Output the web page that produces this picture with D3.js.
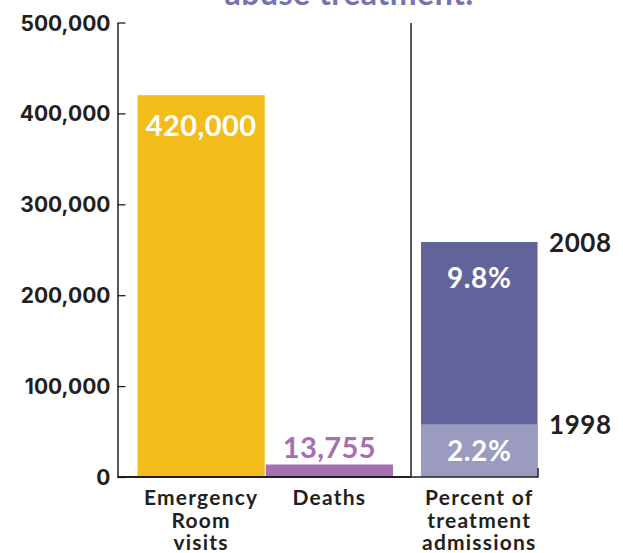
<!DOCTYPE html>
<html>
<head>
<meta charset="utf-8">
<script src="https://cdn.jsdelivr.net/npm/d3@7"></script>
<style>
  html, body { margin: 0; padding: 0; background: #ffffff; }
  svg { display: block; }
</style>
</head>
<body>
<svg id="chart" width="623" height="553"></svg>
<script>
// Counts shown against the left axis
const countCategories = ["Emergency Room visits", "Deaths"];
const countValues = [420000, 13755];
const countLabels = ["420,000", "13,755"];
const countColors = ["#f2bc1a", "#a66fb0"];

// Share of treatment admissions, by year
const pctYears = ["2008", "1998"];
const pctValues = [9.8, 2.2];
const pctLabels = ["9.8%", "2.2%"];
const pctColors = ["#63639b", "#9b9bc0"];

const yTicks = [0, 100000, 200000, 300000, 400000, 500000];
const yTickLabels = ["0", "100,000", "200,000", "300,000", "400,000", "500,000"];

const categoryLabels = [
  ["Emergency", "Room", "visits"],
  ["Deaths"],
  ["Percent of", "treatment", "admissions"]
];
const titleLine = "abuse treatment.";

const ink = "#231f20";
const svg = d3.select("#chart");

const baseY = 477;
const y = d3.scaleLinear().domain([0, 500000]).range([baseY, 22.5]);
const x = d3.scaleBand().domain(countCategories).range([137.5, 393]).paddingInner(0.008);

const pctX0 = 421, pctX1 = 537.5;
const yPct = d3.scaleLinear().domain([0, d3.max(pctValues)]).range([baseY, 242]);

// Title (last line, running off the top edge)
svg.append("text")
  .attr("x", 349).attr("y", 5)
  .attr("text-anchor", "middle")
  .attr("font-family", "Lato, sans-serif")
  .attr("font-weight", 700)
  .attr("font-size", 32)
  .attr("letter-spacing", 0.5)
  .attr("fill", "#7474b0")
  .text(titleLine);

// Count bars
svg.selectAll("rect.count")
  .data(countValues)
  .join("rect")
  .attr("class", "count")
  .attr("x", (d, i) => x(countCategories[i]))
  .attr("width", x.bandwidth())
  .attr("y", d => y(d))
  .attr("height", d => baseY - y(d))
  .attr("fill", (d, i) => countColors[i]);

// Value label inside the tall bar, above the short one
svg.selectAll("text.count")
  .data(countValues)
  .join("text")
  .attr("class", "count")
  .attr("x", (d, i) => x(countCategories[i]) + x.bandwidth() / 2)
  .attr("y", d => (baseY - y(d) > 60 ? y(d) + 41 : y(d) - 6))
  .attr("text-anchor", "middle")
  .attr("font-family", "Lato, sans-serif")
  .attr("font-weight", 700)
  .attr("font-size", 29)
  .attr("letter-spacing", 0.4)
  .attr("fill", (d, i) => (baseY - y(d) > 60 ? "#ffffff" : countColors[i]))
  .text((d, i) => countLabels[i]);

// Percent bars, 2008 behind 1998
svg.selectAll("rect.pct")
  .data(pctValues)
  .join("rect")
  .attr("class", "pct")
  .attr("x", pctX0)
  .attr("width", pctX1 - pctX0)
  .attr("y", d => yPct(d))
  .attr("height", d => baseY - yPct(d))
  .attr("fill", (d, i) => pctColors[i]);

svg.selectAll("text.pct")
  .data(pctValues)
  .join("text")
  .attr("class", "pct")
  .attr("x", (pctX0 + pctX1) / 2)
  .attr("y", (d, i) => i === 0 ? yPct(d) + 46 : (yPct(d) + baseY) / 2 + 10)
  .attr("text-anchor", "middle")
  .attr("font-family", "Lato, sans-serif")
  .attr("font-weight", 700)
  .attr("font-size", 28)
  .attr("letter-spacing", 0.6)
  .attr("fill", "#ffffff")
  .text((d, i) => pctLabels[i]);

// Year labels beside the percent bars
svg.selectAll("text.year")
  .data(pctValues)
  .join("text")
  .attr("class", "year")
  .attr("x", 549)
  .attr("y", d => yPct(d) + 10)
  .attr("font-family", "Lato, sans-serif")
  .attr("font-weight", 700)
  .attr("font-size", 26)
  .attr("letter-spacing", 0.6)
  .attr("fill", ink)
  .text((d, i) => pctYears[i]);

// Left axis: ticks point into the plot
const axis = d3.axisLeft(y)
  .tickValues(yTicks)
  .tickFormat((d, i) => yTickLabels[i])
  .tickSizeInner(-8)
  .tickSizeOuter(0)
  .tickPadding(7);

const gAxis = svg.append("g")
  .attr("transform", "translate(117.5,0)")
  .call(axis);
gAxis.select(".domain").attr("stroke", ink).attr("stroke-width", 1.5);
gAxis.selectAll(".tick line").attr("stroke", ink).attr("stroke-width", 1.3);
gAxis.selectAll(".tick text")
  .attr("fill", ink)
  .attr("font-family", "Inter, sans-serif")
  .attr("font-weight", 700)
  .attr("font-size", 21)
  .attr("dy", "0.36em");

// Baseline and the separator between the two panels
svg.append("path")
  .attr("d", `M117.5,${baseY}H411`)
  .attr("stroke", ink).attr("stroke-width", 1.8).attr("fill", "none");
svg.append("path")
  .attr("d", `M411,23V${baseY}H${pctX1 + 0.5}V${baseY - 9}`)
  .attr("stroke", ink).attr("stroke-width", 1.5).attr("fill", "none");

// Category labels under the bars
const catX = [x(countCategories[0]) + x.bandwidth() / 2, x(countCategories[1]) + x.bandwidth() / 2, (pctX0 + pctX1) / 2];
categoryLabels.forEach((lines, i) => {
  const t = svg.append("text")
    .attr("text-anchor", "middle")
    .attr("font-family", "Lato, sans-serif")
    .attr("font-weight", 700)
    .attr("font-size", 21)
    .attr("letter-spacing", 1.2)
    .attr("fill", ink);
  lines.forEach((line, j) => {
    t.append("tspan")
      .attr("x", catX[i])
      .attr("y", 505 + j * 22.5)
      .text(line);
  });
});
</script>
</body>
</html>
